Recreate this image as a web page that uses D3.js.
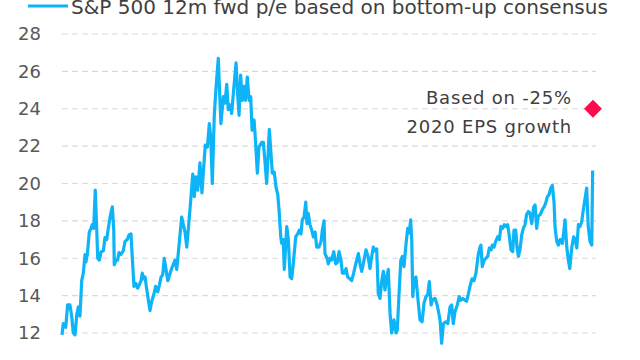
<!DOCTYPE html>
<html><head><meta charset="utf-8">
<script src="https://cdn.jsdelivr.net/npm/d3@7"></script>
<style>body{margin:0;background:#fff}svg{display:block}</style>
</head><body><svg id="c" width="640" height="360"></svg>
<script>
const seriesName = "S&P 500 12m fwd p/e based on bottom-up consensus";
const annotationLines = ["Based on -25%", "2020 EPS growth"];
const yTicks = [12,14,16,18,20,22,24,26,28];
const scenarioPoint = {year: 2020.17, value: 24};
const years = [1990.00,1990.07,1990.21,1990.32,1990.45,1990.55,1990.64,1990.74,1990.84,1990.93,1991.02,1991.12,1991.21,1991.31,1991.36,1991.44,1991.55,1991.65,1991.72,1991.80,1991.89,1991.97,1992.03,1992.12,1992.22,1992.35,1992.44,1992.54,1992.63,1992.73,1992.86,1992.94,1992.97,1993.07,1993.16,1993.24,1993.34,1993.48,1993.58,1993.71,1993.81,1993.92,1993.99,1994.09,1994.19,1994.30,1994.38,1994.49,1994.56,1994.64,1994.72,1994.79,1994.90,1995.00,1995.10,1995.23,1995.32,1995.44,1995.53,1995.63,1995.72,1995.81,1996.01,1996.23,1996.42,1996.52,1996.66,1996.80,1996.99,1997.09,1997.27,1997.43,1997.52,1997.61,1997.71,1997.84,1997.95,1998.14,1998.26,1998.37,1998.45,1998.54,1998.65,1998.75,1998.88,1998.98,1999.03,1999.17,1999.26,1999.36,1999.45,1999.55,1999.64,1999.77,1999.89,1999.98,2000.06,2000.15,2000.24,2000.34,2000.42,2000.53,2000.63,2000.72,2000.80,2000.91,2000.98,2001.10,2001.19,2001.35,2001.44,2001.53,2001.63,2001.78,2001.95,2002.06,2002.16,2002.26,2002.33,2002.43,2002.48,2002.57,2002.63,2002.77,2002.86,2002.96,2003.05,2003.14,2003.28,2003.39,2003.48,2003.58,2003.65,2003.75,2003.85,2003.92,2003.99,2004.09,2004.19,2004.28,2004.38,2004.47,2004.60,2004.72,2004.79,2004.89,2004.94,2005.06,2005.13,2005.23,2005.32,2005.44,2005.55,2005.66,2005.74,2005.85,2005.93,2006.04,2006.14,2006.23,2006.36,2006.46,2006.57,2006.69,2006.84,2006.93,2007.03,2007.16,2007.27,2007.39,2007.50,2007.60,2007.69,2007.78,2007.88,2007.97,2008.07,2008.17,2008.26,2008.35,2008.45,2008.54,2008.64,2008.73,2008.86,2008.98,2009.05,2009.15,2009.25,2009.34,2009.43,2009.55,2009.64,2009.73,2009.81,2009.87,2009.93,2010.02,2010.11,2010.21,2010.34,2010.46,2010.57,2010.68,2010.78,2010.87,2010.97,2011.06,2011.19,2011.29,2011.38,2011.48,2011.57,2011.67,2011.80,2011.92,2012.05,2012.14,2012.23,2012.33,2012.46,2012.57,2012.65,2012.77,2012.90,2012.99,2013.09,2013.18,2013.30,2013.41,2013.52,2013.65,2013.75,2013.80,2013.88,2013.99,2014.09,2014.19,2014.28,2014.38,2014.45,2014.55,2014.64,2014.76,2014.85,2014.94,2015.04,2015.13,2015.23,2015.32,2015.42,2015.51,2015.61,2015.68,2015.78,2015.85,2015.93,2016.02,2016.12,2016.21,2016.31,2016.40,2016.50,2016.59,2016.69,2016.80,2016.88,2016.97,2017.06,2017.18,2017.29,2017.39,2017.48,2017.58,2017.67,2017.77,2017.86,2017.96,2018.01,2018.11,2018.20,2018.30,2018.43,2018.52,2018.58,2018.68,2018.77,2018.85,2018.96,2019.07,2019.15,2019.25,2019.34,2019.43,2019.53,2019.62,2019.72,2019.81,2019.90,2020.00,2020.10,2020.15];
const pe = [11.9,12.5,12.3,13.5,13.5,12.9,12.0,11.9,13.0,13.4,12.9,14.8,15.2,16.2,15.8,16.2,17.4,17.6,17.8,17.6,19.65,17.6,16.0,15.9,16.35,16.4,17.1,17.0,17.6,18.2,18.75,17.5,15.65,15.9,15.9,16.3,16.2,16.4,16.9,17.0,17.25,17.3,16.1,14.5,14.65,14.4,14.55,14.8,15.2,14.9,15.0,14.5,13.8,13.2,13.7,14.1,14.5,14.2,14.55,15.0,15.1,16.0,14.8,15.45,15.9,15.4,16.8,18.2,17.4,16.6,18.6,20.5,19.3,20.35,19.65,21.1,19.5,22.05,21.95,23.2,22.5,20.0,23.6,25.1,26.7,24.3,23.2,24.65,24.3,25.3,23.95,24.2,23.75,25.2,26.45,24.8,23.65,25.8,24.45,25.2,24.45,25.7,24.45,24.65,22.85,23.4,22.5,20.55,21.95,22.2,22.2,21.2,20.0,22.9,20.55,20.6,19.8,19.4,18.6,17.15,16.8,17.0,15.4,17.7,17.0,15.0,14.9,15.7,17.15,17.3,17.5,17.3,18.05,18.2,19.0,17.85,18.4,17.8,17.5,17.15,17.4,16.6,16.6,16.9,17.5,18.0,16.25,16.0,15.7,16.0,15.9,16.35,15.7,15.8,16.35,15.9,15.2,15.2,15.45,15.0,14.9,14.8,15.2,15.7,16.25,15.7,15.3,15.9,16.45,16.1,15.45,16.1,16.6,16.4,16.5,14.1,13.85,14.8,15.3,14.3,15.0,15.4,13.05,12.0,12.7,12.0,12.15,14.1,15.9,16.1,15.55,16.8,17.6,17.35,18.05,17.0,13.95,14.9,15.0,13.95,12.7,12.6,13.6,13.95,14.05,14.75,13.5,13.8,13.85,13.6,13.2,12.7,11.45,12.5,12.6,12.5,13.4,13.5,12.5,13.15,13.5,13.95,13.75,13.85,13.75,13.7,14.1,14.5,14.9,14.8,15.2,16.2,16.6,16.7,15.55,15.9,16.0,16.1,16.55,16.45,16.7,16.6,16.9,17.15,17.0,17.7,17.6,17.8,17.7,17.8,17.15,16.45,16.35,17.5,17.5,16.6,16.1,16.45,17.25,17.6,17.8,18.35,18.5,18.4,17.85,18.75,18.85,17.6,18.25,18.35,18.6,18.75,18.95,19.3,19.4,19.75,19.9,18.95,17.7,16.9,16.7,17.0,16.8,17.5,18.05,16.6,15.9,15.45,16.55,17.15,17.0,16.55,17.8,17.7,17.95,18.6,19.2,19.75,17.7,16.9,16.7,20.7];

const data = years.map((t,i)=>({t, v: pe[i]}));
const svg = d3.select("#c");
const font = "'DejaVu Sans', sans-serif";
const x = d3.scaleLinear().domain([1990, 2020.17]).range([62, 593]);
const y = d3.scaleLinear().domain([12, 28]).range([333, 34]);

// grid
svg.append("g").selectAll("line").data(yTicks).join("line")
  .attr("x1", 62).attr("x2", 596)
  .attr("y1", d=>y(d)).attr("y2", d=>y(d))
  .attr("stroke", "#d9d9d9").attr("stroke-width", 1.2).attr("stroke-dasharray", "6,4");

// y axis labels
const yAxis = d3.axisLeft(y).tickValues(yTicks).tickSize(0).tickPadding(0);
const gy = svg.append("g").attr("transform", "translate(41,0)").call(yAxis);
gy.select(".domain").remove();
gy.selectAll("text").attr("font-family", font).attr("font-size", 18).attr("fill", "#595959");

// line
svg.append("path").datum(data)
  .attr("fill", "none").attr("stroke", "#0db4f7").attr("stroke-width", 3.2)
  .attr("stroke-linejoin", "round")
  .attr("d", d3.line().x(d=>x(d.t)).y(d=>y(d.v)));

// diamond
svg.append("path")
  .attr("d", d3.symbol().type(d3.symbolSquare).size(160)())
  .attr("transform", `translate(${x(scenarioPoint.year)},${y(scenarioPoint.value)}) rotate(45)`)
  .attr("fill", "#ff0a4c");

// annotation
svg.append("text").attr("font-family", font).attr("font-size", 18).attr("fill", "#404040")
  .attr("letter-spacing", 0.8).attr("text-anchor", "end")
  .selectAll("tspan").data(annotationLines).join("tspan")
  .attr("x", 572).attr("y", (d,i)=>104 + i*29).text(d=>d);

// legend
svg.append("line").attr("x1", 28).attr("x2", 68).attr("y1", 6).attr("y2", 6)
  .attr("stroke", "#0db4f7").attr("stroke-width", 3);
svg.append("text").attr("x", 71).attr("y", 14).attr("font-family", font).attr("font-size", 20)
  .attr("fill", "#404040").text(seriesName);
</script></body></html>
